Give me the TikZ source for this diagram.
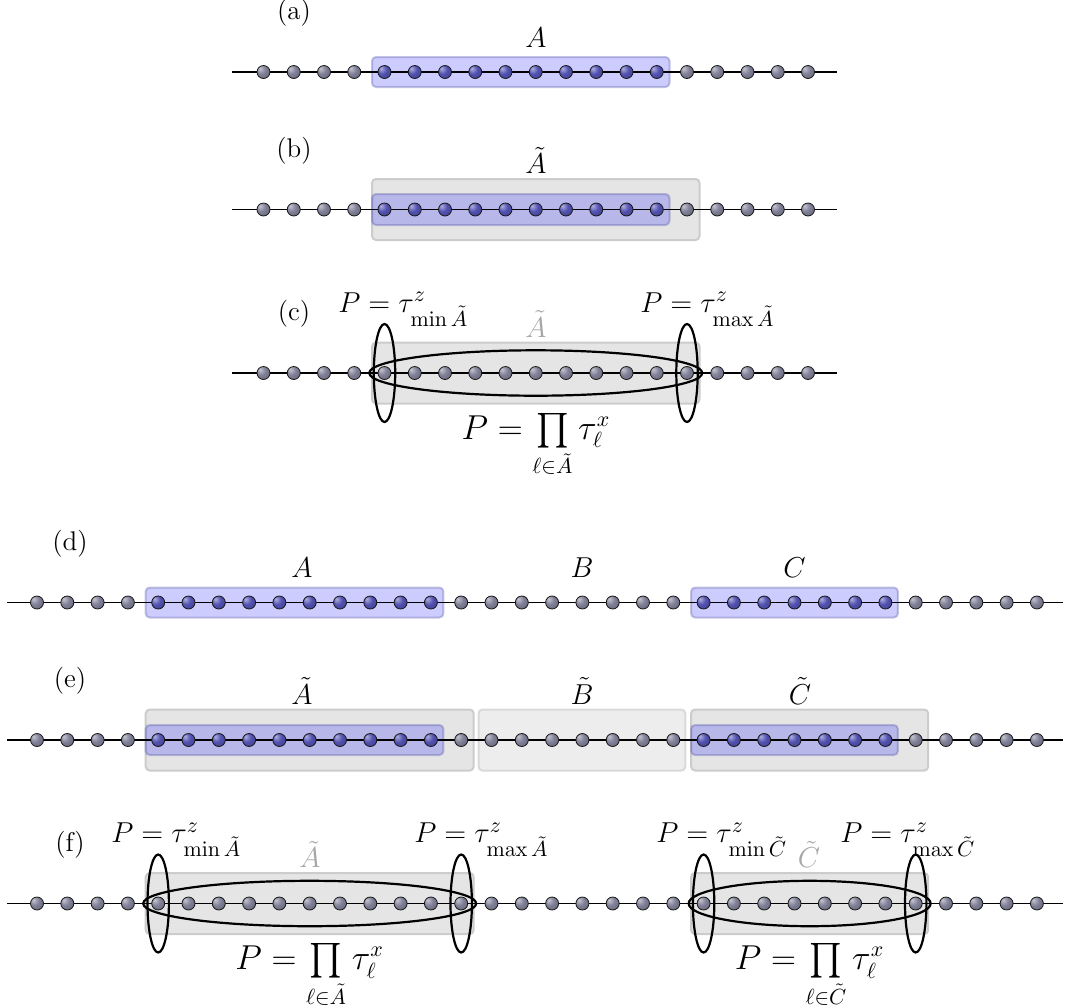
\documentclass[tikz,border=0pt]{standalone}
\usepackage{amsmath}
\begin{document}
\definecolor{sitegray}{RGB}{128,128,152}
\definecolor{siteblue}{RGB}{82,82,178}
\pgfdeclareradialshading{graysiteshade}{\pgfqpoint{-14bp}{14bp}}{color(0bp)=(sitegray!45!white); color(18bp)=(sitegray); color(42bp)=(sitegray!75!black); color(70bp)=(sitegray!55!black)}
\pgfdeclareradialshading{bluesiteshade}{\pgfqpoint{-14bp}{14bp}}{color(0bp)=(siteblue!45!white); color(18bp)=(siteblue); color(42bp)=(siteblue!75!black); color(70bp)=(siteblue!55!black)}
\tikzset{
  site/.style={circle, inner sep=0pt, minimum size=6.5pt, draw=black!90, line width=0.4pt, shading=graysiteshade},
  bsite/.style={site, shading=bluesiteshade},
  chainline/.style={line width=0.7pt},
  graybox/.style={rounded corners=2pt, fill=gray!20, draw=gray!40, line width=1pt},
  lightbox/.style={rounded corners=2pt, fill=gray!14, draw=gray!30, line width=1pt},
  bluebox/.style={rounded corners=2pt, fill=blue, fill opacity=0.2, draw=gray!70!blue, draw opacity=0.35, line width=1pt},
  ell/.style={line width=1.1pt},
  lab/.style={font=\fontsize{14.4}{17}\selectfont, anchor=base},
  tag/.style={font=\fontsize{13.5}{16}\selectfont, anchor=center},
  plab/.style={font=\fontsize{15.6}{18}\selectfont, anchor=base west, inner sep=0pt},
  prodlab/.style={font=\fontsize{16}{19}\selectfont, anchor=base, inner sep=0.5pt},
  glab/.style={lab, text=black!35},
}
\begin{tikzpicture}[x=0.5pt, y=-0.5pt]
\useasboundingbox (0,0) rectangle (1067,1008);
% ---------------- (a) ----------------
\path[bluebox] (372,57) rectangle (669.5,87);
\coordinate (aL) at (232,72); \coordinate (aR) at (837,72);
\draw[chainline] (aL) -- (aR);
\foreach \i in {0,...,3,14,15,...,18} \node[site] (a\i) at ({263.5+30.25*\i},72) {};
\foreach \i in {4,...,13} \node[bsite] (a\i) at ({263.5+30.25*\i},72) {};
\node[tag] (taga) at (294,13) {(a)};
\node[lab] (labA) at (536,47) {$A$};
% ---------------- (b) ----------------
\path[graybox] (372,179) rectangle (699.5,240);
\path[bluebox] (372,194) rectangle (669.5,225);
\coordinate (bL) at (232,209.5); \coordinate (bR) at (837,209.5);
\draw[chainline] (bL) -- (bR);
\foreach \i in {0,...,3,14,15,...,18} \node[site] (b\i) at ({263.5+30.25*\i},209.5) {};
\foreach \i in {4,...,13} \node[bsite] (b\i) at ({263.5+30.25*\i},209.5) {};
\node[tag] (tagb) at (294,150.5) {(b)};
\node[lab] (labAt) at (536,173.5) {$\tilde{A}$};
% ---------------- (c) ----------------
\path[graybox] (372,342.5) rectangle (699.5,403.5);
\coordinate (cL) at (232,373); \coordinate (cR) at (837,373);
\draw[chainline] (cL) -- (cR);
\foreach \i in {0,...,18} \node[site] (c\i) at ({263.5+30.25*\i},373) {};
\draw[ell] (c4) ellipse [x radius=5.35pt, y radius=24.5pt];
\draw[ell] (c14) ellipse [x radius=5.35pt, y radius=24.5pt];
\draw[ell] (535.75,373) ellipse [x radius=83.25pt, y radius=11.35pt];
\node[tag] (tagc) at (294,314) {(c)};
\node[glab] (labcAt) at (536,337) {$\tilde{A}$};
\node[plab] (pcmin) at (338,312) {$P=\tau^z_{\min\tilde{A}}$};
\node[plab] (pcmax) at (640,312) {$P=\tau^z_{\max\tilde{A}}$};
\node[prodlab] (pcprod) at (536,439) {$P=\prod\limits_{\ell\in\tilde{A}}\tau^x_\ell$};
% ---------------- (d) ----------------
\path[bluebox] (145.7,587.5) rectangle (443.4,617.5);
\path[bluebox] (691.1,587.5) rectangle (897.9,617.5);
\coordinate (dL) at (7,602.5); \coordinate (dR) at (1063,602.5);
\draw[chainline] (dL) -- (dR);
\foreach \i in {0,...,3,14,15,...,21,29,30,...,33} \node[site] (d\i) at ({37+30.3*\i},602.5) {};
\foreach \i in {4,...,13,22,23,...,28} \node[bsite] (d\i) at ({37+30.3*\i},602.5) {};
\node[tag] (tagd) at (70,543.5) {(d)};
\node[lab] (labdA) at (302,577.5) {$A$};
\node[lab] (labdB) at (582,577.5) {$B$};
\node[lab] (labdC) at (794.5,577.5) {$C$};
% ---------------- (e) ----------------
\path[graybox] (145.7,709.5) rectangle (473.7,770.5);
\path[lightbox] (478.5,709.5) rectangle (685.3,770.5);
\path[graybox] (691.1,709.5) rectangle (928.2,770.5);
\path[bluebox] (145.7,725) rectangle (443.4,755);
\path[bluebox] (691.1,725) rectangle (897.9,755);
\coordinate (eL) at (7,740); \coordinate (eR) at (1063,740);
\draw[chainline] (eL) -- (eR);
\foreach \i in {0,...,3,14,15,...,21,29,30,...,33} \node[site] (e\i) at ({37+30.3*\i},740) {};
\foreach \i in {4,...,13,22,23,...,28} \node[bsite] (e\i) at ({37+30.3*\i},740) {};
\node[tag] (tage) at (70,681) {(e)};
\node[lab] (labeA) at (302,704) {$\tilde{A}$};
\node[lab] (labeB) at (582,704) {$\tilde{B}$};
\node[lab] (labeC) at (800,704) {$\tilde{C}$};
% ---------------- (f) ----------------
\path[graybox] (145.7,873) rectangle (473.7,934);
\path[graybox] (691.1,873) rectangle (928.2,934);
\coordinate (fL) at (7,903.5); \coordinate (fR) at (1063,903.5);
\draw[chainline] (fL) -- (fR);
\foreach \i in {0,...,33} \node[site] (f\i) at ({37+30.3*\i},903.5) {};
\draw[ell] (f4) ellipse [x radius=5.35pt, y radius=24.5pt];
\draw[ell] (f14) ellipse [x radius=5.35pt, y radius=24.5pt];
\draw[ell] (f22) ellipse [x radius=5.35pt, y radius=24.5pt];
\draw[ell] (f29) ellipse [x radius=5.35pt, y radius=24.5pt];
\draw[ell] (309.7,903.5) ellipse [x radius=83.25pt, y radius=11.35pt];
\draw[ell] (809.65,903.5) ellipse [x radius=60.5pt, y radius=11.35pt];
\node[tag] (tagf) at (70,844.5) {(f)};
\node[glab] (labfA) at (310,867.5) {$\tilde{A}$};
\node[glab] (labfC) at (809,867.5) {$\tilde{C}$};
\node[plab] (pfAmin) at (111,842.5) {$P=\tau^z_{\min\tilde{A}}$};
\node[plab] (pfAmax) at (414,842.5) {$P=\tau^z_{\max\tilde{A}}$};
\node[plab] (pfCmin) at (656,842.5) {$P=\tau^z_{\min\tilde{C}}$};
\node[plab] (pfCmax) at (840,842.5) {$P=\tau^z_{\max\tilde{C}}$};
\node[prodlab] (pfAprod) at (309.7,969.5) {$P=\prod\limits_{\ell\in\tilde{A}}\tau^x_\ell$};
\node[prodlab] (pfCprod) at (809.6,969.5) {$P=\prod\limits_{\ell\in\tilde{C}}\tau^x_\ell$};
\end{tikzpicture}
\end{document}
